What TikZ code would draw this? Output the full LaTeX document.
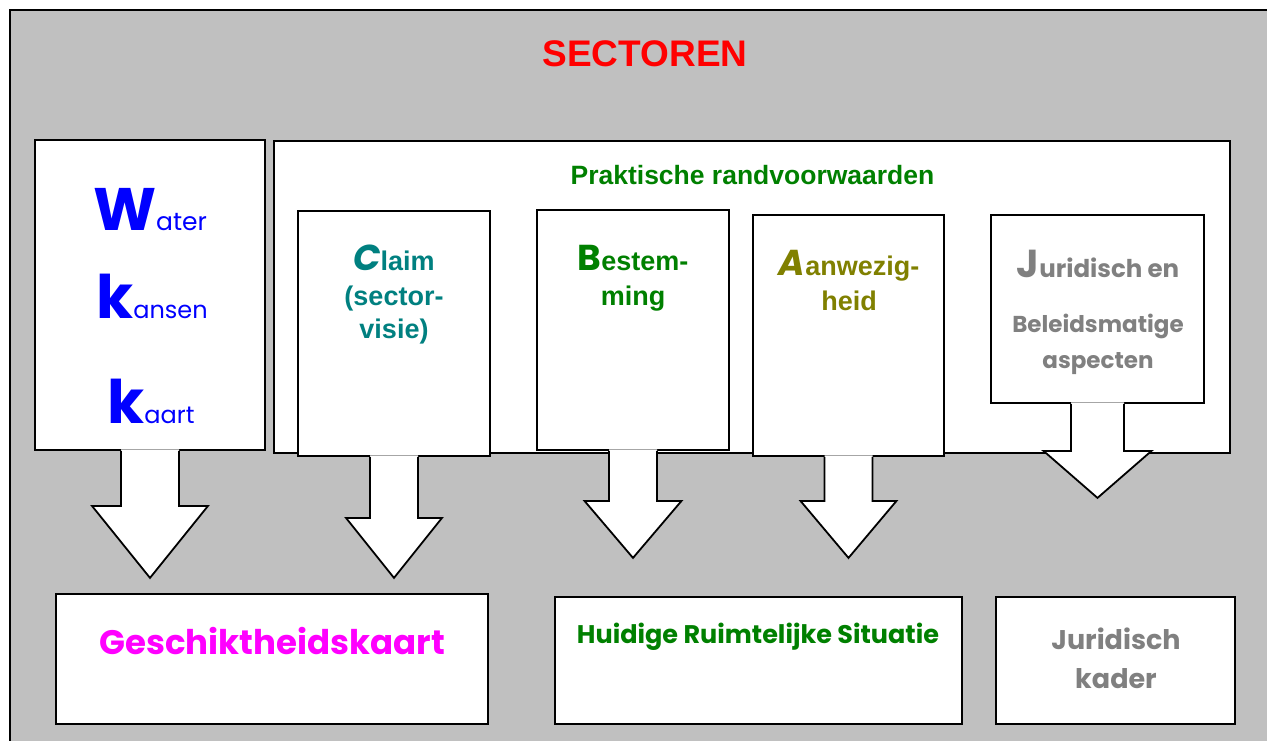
\documentclass[tikz,border=0pt]{standalone}
\usepackage{fontspec}
\setmainfont{Liberation Sans}
\newfontfamily\comicfont{Poppins}
\definecolor{framegray}{HTML}{C0C0C0}
\definecolor{wkkblue}{HTML}{0000FF}
\definecolor{claimteal}{HTML}{008080}
\definecolor{bestgreen}{HTML}{008000}
\definecolor{aanwolive}{HTML}{808000}
\definecolor{jurgray}{HTML}{808080}
\definecolor{geschmagenta}{HTML}{FF00FF}
\newcommand{\fs}[1]{\fontsize{#1}{#1}\selectfont}

\begin{document}
\begin{tikzpicture}[x=1pt, y=-1pt,
box/.style={rectangle, draw=black, fill=white, line width=1.8pt, inner sep=0pt},
arrowline/.style={draw=black, line width=1.8pt, line join=miter},
lbl/.style={anchor=base, inner sep=0pt, align=center},
]
\useasboundingbox (0,0) rectangle (1267,740);
\clip (0,0) rectangle (1267,740);

%Frame
\draw[fill=framegray, line width=1.8pt] (10,10) rectangle (1290,770);
\node[lbl, text=red] (title) at (645,66) {\fs{37}\bfseries SECTOREN};

%Boxes
\node[box, minimum width=956, minimum height=312] (prakt)  at (752,297) {};
\node[box, minimum width=230, minimum height=310] (wkk)    at (150,295) {};
\node[box, minimum width=192, minimum height=245] (claim)  at (394,333.5) {};
\node[box, minimum width=192, minimum height=240] (bestem) at (633,330) {};
\node[box, minimum width=191, minimum height=241] (aanwez) at (848.5,335.5) {};
\node[box, minimum width=213, minimum height=188] (jurid)  at (1097.5,309) {};

\node[box, minimum width=432, minimum height=130] (geschikt) at (272,659) {};
\node[box, minimum width=407, minimum height=127] (huidig)   at (758.5,660.5) {};
\node[box, minimum width=239, minimum height=127] (jurkader) at (1115.5,660.5) {};

%Block arrows
\foreach \b/\sw/\hw/\ht/\tp in {wkk/29/58/55/127, claim/24/48/61/121, bestem/24/48.5/50/107, aanwez/24/48/44/101, jurid/26.5/54/47/94}{
  \fill[white] ([xshift=-\sw pt, yshift=1.5pt]\b.south) -- ([xshift=-\sw pt, yshift=-\ht pt]\b.south)
    -- ([xshift=-\hw pt, yshift=-\ht pt]\b.south) -- ([yshift=-\tp pt]\b.south)
    -- ([xshift=\hw pt, yshift=-\ht pt]\b.south) -- ([xshift=\sw pt, yshift=-\ht pt]\b.south)
    -- ([xshift=\sw pt, yshift=1.5pt]\b.south) -- cycle;
  \draw[arrowline] ([xshift=-\sw pt]\b.south) -- ([xshift=-\sw pt, yshift=-\ht pt]\b.south)
    -- ([xshift=-\hw pt, yshift=-\ht pt]\b.south) -- ([yshift=-\tp pt]\b.south)
    -- ([xshift=\hw pt, yshift=-\ht pt]\b.south) -- ([xshift=\sw pt, yshift=-\ht pt]\b.south)
    -- ([xshift=\sw pt]\b.south);
}

%Texts
\node[lbl, text=bestgreen] (prakttxt) at (752.5,184) {\fs{26.5}\bfseries Praktische randvoorwaarden};

\node[lbl, text=wkkblue] (water)  at (150,230) {\comicfont{\fs{60}\bfseries W}{\fs{25}ater}};
\node[lbl, text=wkkblue] (kansen) at (152,318) {\comicfont{\fs{60}\bfseries k}{\fs{24}ansen}};
\node[lbl, text=wkkblue] (kaart)  at (151,423) {\comicfont{\fs{60}\bfseries k}{\fs{24}aart}};

\node[lbl, text=claimteal] (claim1) at (394,270) {{\comicfont\fs{36}\bfseries\itshape C}{\fs{27}\bfseries laim}};
\node[lbl, text=claimteal] (claim2) at (394,305) {\fs{27}\bfseries (sector-};
\node[lbl, text=claimteal] (claim3) at (394,338) {\fs{27}\bfseries visie)};

\node[lbl, text=bestgreen] (bestem1) at (633,270) {{\comicfont\fs{36}\bfseries B}{\fs{27}\bfseries estem-}};
\node[lbl, text=bestgreen] (bestem2) at (633,305) {\fs{27}\bfseries ming};

\node[lbl, text=aanwolive] (aanwez1) at (849,275) {{\comicfont\fs{36}\bfseries\itshape A}{\fs{27}\bfseries anwezig-}};
\node[lbl, text=aanwolive] (aanwez2) at (849,310) {\fs{27}\bfseries heid};

\node[lbl, text=jurgray] (jurid1) at (1098,277) {\comicfont\bfseries{\fs{39}J}{\fs{24.5}uridisch en}};
\node[lbl, text=jurgray] (jurid2) at (1098,332) {\comicfont\bfseries\fs{23}Beleidsmatige};
\node[lbl, text=jurgray] (jurid3) at (1098,368) {\comicfont\bfseries\fs{23}aspecten};

\node[lbl, text=geschmagenta] (geschtxt) at (272,654) {\comicfont\bfseries\fs{34}Geschiktheidskaart};
\node[lbl, text=bestgreen] (huidtxt) at (758,643) {\comicfont\bfseries\fs{25.5}Huidige Ruimtelijke Situatie};
\node[lbl, text=jurgray] (kader1) at (1116,649) {\comicfont\bfseries\fs{27}Juridisch};
\node[lbl, text=jurgray] (kader2) at (1116,688) {\comicfont\bfseries\fs{27}kader};
\end{tikzpicture}
\end{document}
